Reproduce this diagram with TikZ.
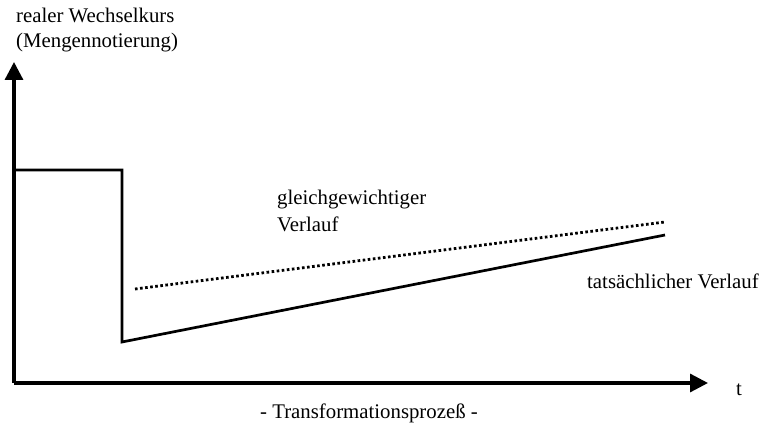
\documentclass[tikz,border=0pt]{standalone}
\usepackage{fontspec}
\setmainfont{Liberation Serif}
\usetikzlibrary{arrows.meta}
\begin{document}
\begin{tikzpicture}[x=1pt,y=-1pt,
  lbl/.style={anchor=base west,inner sep=0pt,font=\fontsize{20.8}{26}\selectfont},
  axis/.style={line width=3.2pt,-{Triangle[length=18pt,width=18pt]}},
  curve/.style={line width=2.7pt},
  dotline/.style={line width=2.8pt,dash pattern=on 2.6pt off 2.5pt}]
\useasboundingbox (0,0) rectangle (762,427);
\coordinate (o) at (14,383);
\coordinate (ytip) at (14,62);
\coordinate (xtip) at (708,383);
\coordinate (a) at (14,170);
\coordinate (b) at (122,170);
\coordinate (c) at (122,342);
\coordinate (d) at (665,235);
\coordinate (e) at (135,289);
\coordinate (f) at (665,222);
\draw[axis] (o) -- (ytip);
\draw[axis] (o) -- (xtip);
\draw[curve,line join=miter] (a) -- (b) -- (c) -- (d);
\draw[dotline] (e) -- (f);
\node[lbl] (yl1) at (16,23) {realer Wechselkurs};
\node[lbl] (yl2) at (16,48) {(Mengennotierung)};
\node[lbl] (g1) at (277,205) {gleichgewichtiger};
\node[lbl] (g2) at (277,232) {Verlauf};
\node[lbl] (tv) at (587,288) {tatsächlicher Verlauf};
\node[lbl] (t) at (736,395) {t};
\node[anchor=base,inner sep=0pt,font=\fontsize{20.8}{26}\selectfont] (tp) at (369,418) {- Transformationsprozeß -};
\end{tikzpicture}
\end{document}
